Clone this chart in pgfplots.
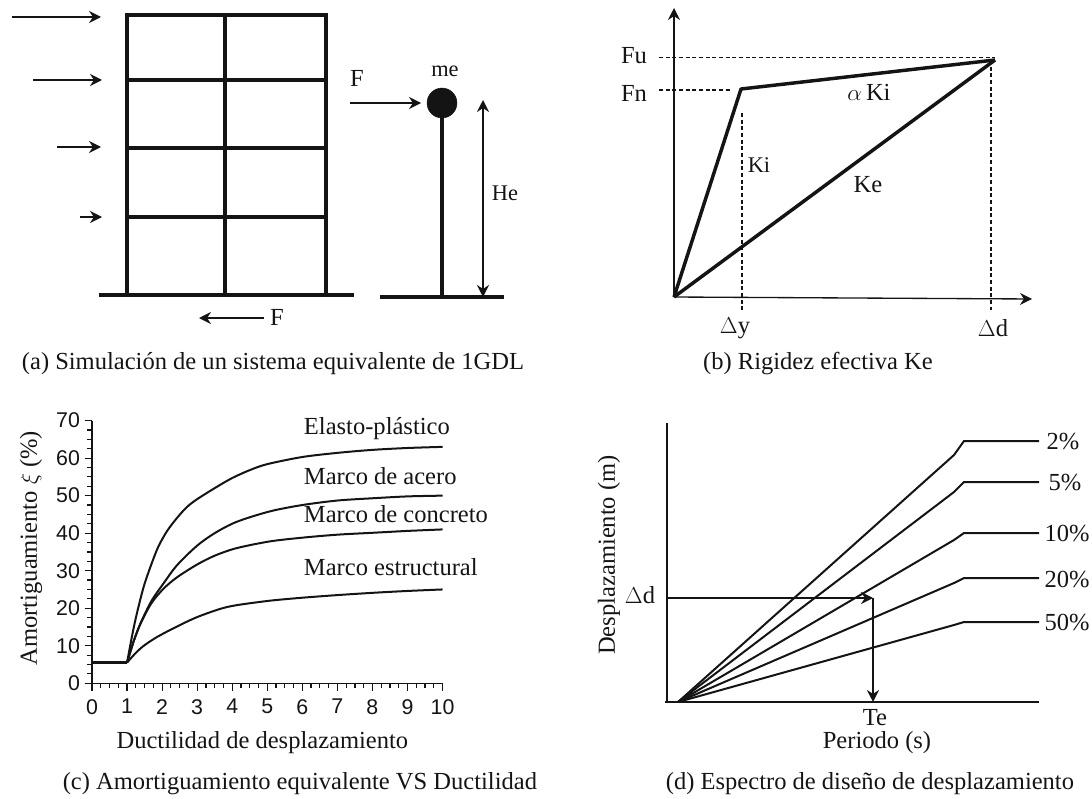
\documentclass[border=0pt]{standalone}
\usepackage{fontspec}
\setmainfont{Liberation Serif}
\newfontfamily\arial{Liberation Sans}
\usepackage{pgfplots}
\pgfplotsset{compat=1.18}
\usetikzlibrary{arrows.meta}
\definecolor{ink}{gray}{0.08}
\tikzset{
  lbl/.style={font=\fontsize{18.4pt}{20pt}\selectfont, text=ink, inner sep=0pt},
  small/.style={font=\fontsize{16.8pt}{18pt}\selectfont, text=ink, inner sep=0pt},
  subcap/.style={font=\fontsize{18.4pt}{20pt}\selectfont, text=ink, inner sep=0pt},
  arr/.style={-{Stealth[length=9pt,width=9pt]}, line width=1pt, color=ink},
}
\begin{document}
\begin{tikzpicture}
\useasboundingbox (0,0) rectangle (819pt,599.25pt);
% page in reference pixels, used for the three diagrams
\begin{axis}[
  at={(0,0)}, anchor=south west, scale only axis,
  width=819pt, height=599.25pt,
  xmin=0, xmax=1092, ymin=0, ymax=799, y dir=reverse,
  axis lines=none, clip=false,
]
%% (a) frame
\addplot[line width=2.6pt, ink] coordinates {(127,15) (127,295)};
\addplot[line width=2.6pt, ink] coordinates {(225,15) (225,295)};
\addplot[line width=2.6pt, ink] coordinates {(326,15) (326,295)};
\addplot[line width=2.6pt, ink] coordinates {(125,15) (328,15)};
\addplot[line width=2.6pt, ink] coordinates {(127,80) (326,80)};
\addplot[line width=2.6pt, ink] coordinates {(127,148) (326,148)};
\addplot[line width=2.6pt, ink] coordinates {(127,217) (326,217)};
\addplot[line width=2.6pt, ink] coordinates {(99,295) (354,295)};
\addplot[line width=2.6pt, ink] coordinates {(380,297) (504,297)};
\addplot[arr] coordinates {(12,17) (101,17)};
\addplot[arr] coordinates {(33,80) (102,80)};
\addplot[arr] coordinates {(57,147) (101,147)};
\addplot[arr] coordinates {(80,217) (102,217)};
\addplot[arr] coordinates {(264,318) (199,318)};
\addplot[arr] coordinates {(350,103) (421,103)};
\addplot[line width=2.6pt, ink] coordinates {(442,103) (442,297)};
\addplot[only marks, mark=*, mark size=11.2pt, ink] coordinates {(442,103)};
\addplot[{Stealth[length=9pt,width=9pt]}-{Stealth[length=9pt,width=9pt]}, line width=1pt, ink] coordinates {(483,100) (483,297)};
\node[lbl] at (axis cs:277,317) {F};
\node[lbl] at (axis cs:357,78) {F};
\node[small] at (axis cs:445,71) {me};
\node[small] at (axis cs:505,193) {He};
\node[subcap] at (axis cs:273,364) {(a) Simulación de un sistema equivalente de 1GDL};
%% (b) bilinear curve
\addplot[arr] coordinates {(674,297) (674,8)};
\addplot[arr] coordinates {(674,297) (1032,299)};
\addplot[line width=2.6pt, ink, line join=round] coordinates {(674,297) (741,89) (995,60)};
\addplot[line width=2.6pt, ink] coordinates {(674,297) (995,60)};
\addplot[densely dashed, line width=0.9pt, ink] coordinates {(659,57.5) (995,57.5)};
\addplot[densely dashed, line width=0.9pt, ink] coordinates {(659,90) (731,90)};
\addplot[densely dashed, line width=0.9pt, ink] coordinates {(742,113) (742,310)};
\addplot[densely dashed, line width=0.9pt, ink] coordinates {(991,60) (991,310)};
\node[lbl] at (axis cs:634,56) {Fu};
\node[lbl] at (axis cs:634,93) {Fn};
\node[lbl] at (axis cs:869,92) {$\alpha$\,Ki};
\node[small] at (axis cs:759,165) {Ki};
\node[lbl] at (axis cs:868,185) {Ke};
\node[lbl] at (axis cs:735,328) {$\Delta$y};
\node[lbl] at (axis cs:993,328) {$\Delta$d};
\node[subcap] at (axis cs:818,364) {(b) Rigidez efectiva Ke};
%% (d) spectrum
\addplot[line width=1.2pt, ink] coordinates {(667,423) (667,702)};
\addplot[line width=1.2pt, ink] coordinates {(665,702) (1039,702)};
\addplot[line width=1.5pt, ink] coordinates {(678,702) (954,455) (964,441) (1039,441)};
\addplot[line width=1.5pt, ink] coordinates {(678,702) (954,492) (964,482) (1039,482)};
\addplot[line width=1.5pt, ink] coordinates {(678,702) (954,540) (964,533) (1039,533)};
\addplot[line width=1.5pt, ink] coordinates {(678,702) (954,583) (964,578) (1039,578)};
\addplot[line width=1.5pt, ink] coordinates {(678,702) (954,625) (964,622) (1039,622)};
\addplot[arr] coordinates {(667,598) (873,598)};
\addplot[arr] coordinates {(873,598) (873,702)};
\node[lbl] at (axis cs:1063,441) {2\%};
\node[lbl] at (axis cs:1065,482) {5\%};
\node[lbl] at (axis cs:1067,533) {10\%};
\node[lbl] at (axis cs:1067,579) {20\%};
\node[lbl] at (axis cs:1067,622) {50\%};
\node[lbl] at (axis cs:640,595) {$\Delta$d};
\node[lbl] at (axis cs:875,718) {Te};
\node[lbl] at (axis cs:877,743) {Periodo (s)};
\node[lbl, rotate=90] at (axis cs:609,555) {Desplazamiento (m)};
\node[subcap] at (axis cs:870,784) {(d) Espectro de diseño de desplazamiento};
\end{axis}
%% (c) damping against ductility
\begin{axis}[
  at={(69pt,86.8pt)}, anchor=south west, scale only axis,
  width=262.9pt, height=197pt,
  xmin=0, xmax=10, ymin=0, ymax=70,
  axis x line=bottom, axis y line=left,
  axis line style={-, line width=1.1pt, ink},
  xtick={0,...,10}, ytick={0,10,...,70},
  minor x tick num=3, minor y tick num=3,
  tick align=outside, tick style={line width=0.9pt, ink},
  major tick length=5.5pt, minor tick length=3.5pt,
  /pgf/number format/assume math mode=true,
  tick label style={font=\arial\fontsize{16pt}{18pt}\selectfont, text=ink},
  xticklabel style={yshift=-3pt},
  clip=false,
]
\addplot[line width=2.2pt, ink] coordinates {(0,5.5) (1,5.5)};
\addplot[smooth, line width=1.5pt, ink] coordinates {(1,5.5) (1.13,12) (1.27,18.2) (1.5,26.5) (1.85,35.5) (2.13,40.4) (2.42,44) (2.7,46.9) (2.99,49) (3.5,52) (4,54.7) (4.5,56.8) (5,58.4) (6,60.3) (7,61.4) (8,62.2) (9,62.7) (10,63)};
\addplot[smooth, line width=1.5pt, ink] coordinates {(1,5.5) (1.2,11.5) (1.4,16.3) (1.7,22) (2.04,26.6) (2.42,31.4) (2.99,36.6) (3.5,40) (4.12,43) (5.07,45.8) (6,47.5) (7,48.7) (8,49.3) (9,49.8) (10,50)};
\addplot[smooth, line width=1.5pt, ink] coordinates {(1,5.5) (1.2,11.5) (1.4,16.2) (1.7,21.4) (2.04,25.2) (2.42,28.2) (2.99,31.6) (3.5,34) (4.12,36) (5.07,37.8) (6,38.8) (7,39.6) (8,40.1) (9,40.6) (10,41)};
\addplot[smooth, line width=1.5pt, ink] coordinates {(1,5.5) (1.2,7.6) (1.45,9.8) (1.85,12.3) (2.42,15.1) (2.99,17.6) (3.65,19.8) (4.12,20.8) (5.07,22) (6,22.8) (7,23.5) (8,24.1) (9,24.6) (10,25)};
\node[lbl, anchor=west] at (axis cs:6.04,68) {Elasto-plástico};
\node[lbl, anchor=west] at (axis cs:6.04,55.2) {Marco de acero};
\node[lbl, anchor=west] at (axis cs:6.04,45) {Marco de concreto};
\node[lbl, anchor=west] at (axis cs:6.04,31) {Marco estructural};
\node[lbl, rotate=90] at (axis cs:-1.74,36) {Amortiguamiento $\xi$ (\%)};
\node[lbl] at (axis cs:4.86,-15.7) {Ductilidad de desplazamiento};
\node[subcap] at (axis cs:5.93,-26.8) {(c) Amortiguamiento equivalente VS Ductilidad};
\end{axis}
\end{tikzpicture}
\end{document}
